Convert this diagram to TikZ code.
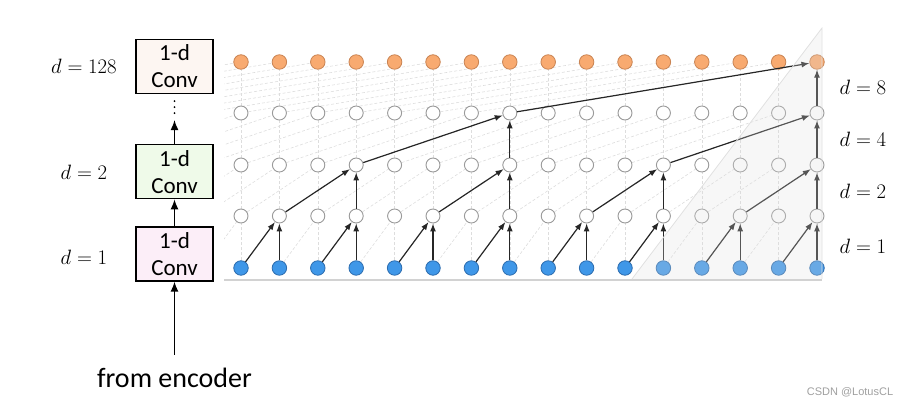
\documentclass[tikz,border=0pt]{standalone}
\usepackage[no-math]{fontspec}
\newfontfamily\carlito{Carlito}
\newfontfamily\wmfont{Liberation Sans}
\usepackage{xcolor}
\usetikzlibrary{arrows.meta,positioning,backgrounds,calc}
\definecolor{inblue}{HTML}{3F97E8}
\definecolor{inblueD}{HTML}{2C6CAE}
\definecolor{outorg}{HTML}{F8AA70}
\definecolor{outorgD}{HTML}{C98352}
\definecolor{peachbg}{HTML}{FDF6F2}
\definecolor{greenbg}{HTML}{EFFAE9}
\definecolor{pinkbg}{HTML}{FCEEF8}

\begin{document}
\begin{tikzpicture}[x=1pt,y=-1pt,
  >={Latex[length=10pt,width=8pt]},
  conv/.style={draw,line width=1.3pt,minimum width=77pt,minimum height=54pt,inner sep=0pt,align=center,font=\carlito\fontsize{23}{27}\selectfont},
  inp/.style={circle,draw=inblueD,fill=inblue,line width=0.8pt,minimum size=14.5pt,inner sep=0pt},
  hid/.style={circle,draw=gray!80,fill=white,line width=0.9pt,minimum size=14pt,inner sep=0pt},
  outp/.style={circle,draw=outorgD,fill=outorg,line width=0.8pt,minimum size=14.5pt,inner sep=0pt},
  lbl/.style={font=\fontsize{21.5}{24}\selectfont},
  ghost/.style={gray!27,line width=0.6pt,dash pattern=on 3pt off 2pt},
  edge/.style={-{Latex[length=8pt,width=6pt]},line width=1.2pt,black!85}]
\useasboundingbox (0,0) rectangle (914,406);
% stack of dilated convolutions
\node[conv,fill=pinkbg] (conv1) at (174.5,254) {1-d\\Conv};
\node[conv,fill=greenbg,above=27pt of conv1] (conv2) {1-d\\Conv};
\node[conv,fill=peachbg,above=50pt of conv2] (conv3) {1-d\\Conv};
\coordinate[below=7pt of conv3] (dtop);
\coordinate[below=19pt of conv3] (dbot);
\coordinate[below=26pt of conv3] (atip);
\draw[line width=2pt,line cap=round,dash pattern=on 0pt off 6pt] (dtop) -- (dbot);
\node[font=\carlito\fontsize{28}{30}\selectfont,inner ysep=13pt] (enc) at (174.5,378) {from encoder};
\draw[->,line width=1.4pt] (enc) -- (conv1);
\draw[->,line width=1.4pt] (conv1) -- (conv2);
\draw[->,line width=1.4pt] (conv2) -- (atip);
\coordinate (lx) at (84,0);
\node[lbl] (l128) at (lx |- conv3) {$d=128$};
\node[lbl] (l2) at ($(lx |- conv2)+(0,1)$) {$d=2$};
\node[lbl] (l1) at ($(lx |- conv1)+(0,3)$) {$d=1$};
% grid of units
\foreach \i in {0,...,15} {
  \node[inp] (n-0-\i) at (241+38.4*\i,268) {};
  \foreach \r/\y in {1/216,2/165,3/113} \node[hid] (n-\r-\i) at (241+38.4*\i,\y) {};
  \node[outp] (n-4-\i) at (241+38.4*\i,62) {};
}
\foreach \i in {-8,...,-1}
  \foreach \r/\y in {0/268,1/216,2/165,3/113} \coordinate (n-\r-\i) at (241+38.4*\i,\y);
% faint connections behind
\begin{scope}[on background layer]
  \clip (224,40) rectangle (822,285);
  \foreach \r/\dl in {0/1,1/2,2/4,3/8} {
    \pgfmathtruncatemacro\rr{\r+1}
    \foreach \i in {0,...,15} {
      \pgfmathtruncatemacro\p{\i-\dl}
      \draw[ghost] (n-\r-\i) -- (n-\rr-\i);
      \draw[ghost] (n-\r-\p) -- (n-\rr-\i);
    }
  }
  \draw[gray!35,line width=1.2pt] (222,280) -- (822,280);
\end{scope}
% active paths
\foreach \j in {1,3,...,15} {
  \pgfmathtruncatemacro\p{\j-1}
  \draw[edge] (n-0-\p) -- (n-1-\j);
  \draw[edge] (n-0-\j) -- (n-1-\j);
}
\foreach \j in {3,7,11,15} {
  \pgfmathtruncatemacro\p{\j-2}
  \draw[edge] (n-1-\p) -- (n-2-\j);
  \draw[edge] (n-1-\j) -- (n-2-\j);
}
\foreach \j in {7,15} {
  \pgfmathtruncatemacro\p{\j-4}
  \draw[edge] (n-2-\p) -- (n-3-\j);
  \draw[edge] (n-2-\j) -- (n-3-\j);
}
\draw[edge] (n-3-7) -- (n-4-15);
\draw[edge] (n-3-15) -- (n-4-15);
% shaded receptive field
\fill[black!12,fill opacity=0.26] (632,279) -- (822,279) -- (822,28) -- cycle;
\draw[black!12,line width=0.8pt] (632,279) -- (822,28) -- (822,279);
% dilation labels
\node[lbl] (r8) at ($(n-3-15)!0.5!(n-4-15)+(46,0)$) {$d=8$};
\node[lbl] (r4) at ($(n-2-15)!0.5!(n-3-15)+(46,0)$) {$d=4$};
\node[lbl] (r2) at ($(n-1-15)!0.5!(n-2-15)+(46,1)$) {$d=2$};
\node[lbl] (r1) at ($(n-0-15)!0.5!(n-1-15)+(46,4)$) {$d=1$};
\node[font=\wmfont\fontsize{11}{12}\selectfont,text=gray!75] (wm) at (850,392) {CSDN @LotusCL};
\end{tikzpicture}
\end{document}
